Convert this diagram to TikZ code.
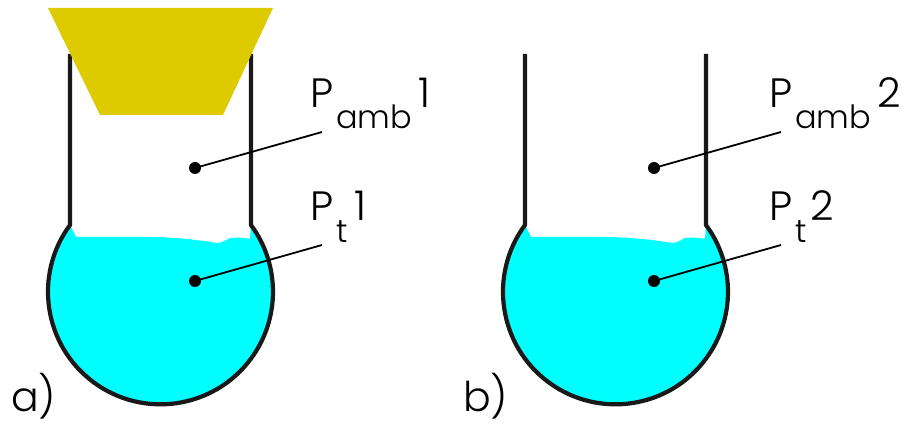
\documentclass[tikz,border=0pt]{standalone}
\usepackage{fontspec}
\setmainfont{Poppins Light}
\usetikzlibrary{positioning,calc}
\definecolor{water}{HTML}{00FFFF}
\definecolor{stopper}{HTML}{DDCB00}
\newcommand{\subtxt}[2]{\raisebox{#1}{\kern3pt\fontsize{32}{32}\selectfont #2}}
\newcommand{\bulb}[1]{%
  \fill[water, xshift=#1] (70,201) arc[start angle=143.55, end angle=396.45, radius=112.5]
    -- (250,187) .. controls (244,188.5) and (236,188.5) .. (230,188)
    .. controls (226,186) and (222,183) .. (217,183)
    .. controls (195,187) and (165,189) .. (150,189) -- (76,189) -- cycle;
  \draw[wall, xshift=#1] (70,372) -- (70,201) arc[start angle=143.55, end angle=396.45, radius=112.5] -- (251,372);
}
\tikzset{
  wall/.style={line width=4.2pt, draw=black!90, line join=round},
  lead/.style={line width=1.8pt, draw=black},
  probe/.style={circle, fill=black, inner sep=0pt, minimum size=12pt},
  lbl/.style={anchor=base west, inner sep=0pt, font=\fontsize{41}{41}\selectfont},
}

\begin{document}
\begin{tikzpicture}[x=1pt, y=1pt]
    \useasboundingbox (0,0) rectangle (906,426);
    \bulb{0}
    \bulb{455}
    \fill[stopper] (48,418) -- (273,418) -- (223,311) -- (100,311) -- cycle;
    % a)
    \node[probe] (p1) at (195,258) {};
    \node[probe] (q1) at (195,145) {};
    \coordinate (e1) at (322,294);
    \coordinate (f1) at (322,181);
    \draw[lead] (p1.center) -- (e1);
    \draw[lead] (q1.center) -- (f1);
    \node[lbl] (amb1) at (310,318) {P\subtxt{-21pt}{amb}\kern6pt 1};
    \node[lbl] (t1) at (310,205) {P\subtxt{-22pt}{t}\kern7pt 1};
    \node[lbl] (a) at (11,14) {a)};
    % b)
    \node[probe] (p2) at (654,258) {};
    \node[probe] (q2) at (654,145) {};
    \coordinate (e2) at (781,294);
    \coordinate (f2) at (781,181);
    \draw[lead] (p2.center) -- (e2);
    \draw[lead] (q2.center) -- (f2);
    \node[lbl] (amb2) at (769,318) {P\subtxt{-21pt}{amb}\kern6pt 2};
    \node[lbl] (t2) at (769,205) {P\subtxt{-22pt}{t}\kern4pt 2};
    \node[lbl] (b) at (463,14) {b)};
  \end{tikzpicture}
\end{document}
